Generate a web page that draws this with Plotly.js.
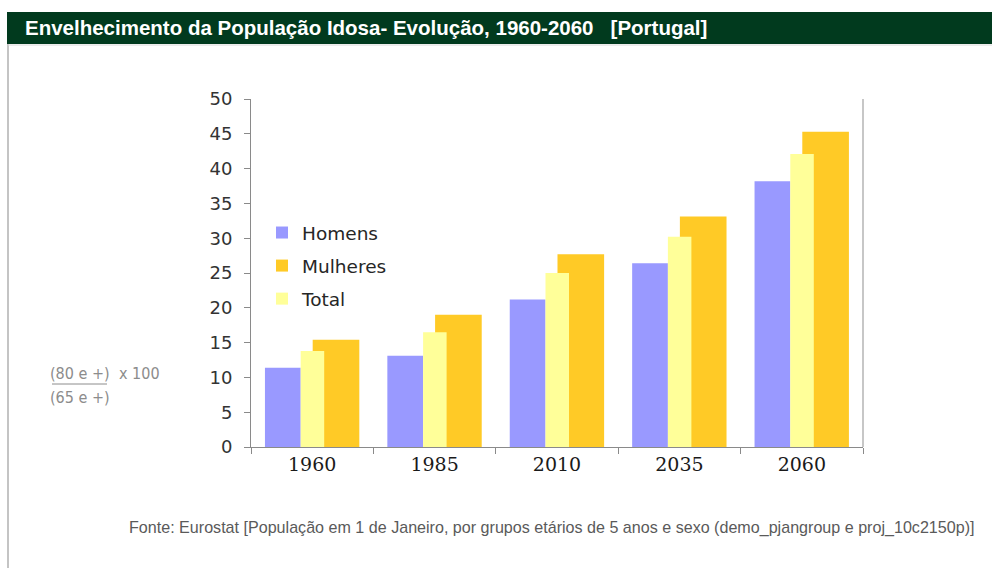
<!DOCTYPE html>
<html>
<head>
<meta charset="utf-8">
<script src="https://cdn.plot.ly/plotly-3.0.1.min.js"></script>
<style>
html,body{margin:0;padding:0;background:#fff;}
#chart{width:992px;height:568px;}
</style>
</head>
<body>
<div id="chart"></div>
<script>
// Data
var years = ['1960', '1985', '2010', '2035', '2060'];
var homens = [11.4, 13.1, 21.2, 26.4, 38.2];
var mulheres = [15.4, 19.0, 27.7, 33.1, 45.3];
var total = [13.8, 16.5, 25.0, 30.2, 42.1];
var yTicks = [0, 5, 10, 15, 20, 25, 30, 35, 40, 45, 50];

var titleText = 'Envelhecimento da População Idosa- Evolução, 1960-2060   [Portugal]';
var sourceText = 'Fonte: Eurostat [População em 1 de Janeiro, por grupos etários de 5 anos e sexo (demo_pjangroup e proj_10c2150p)]';

// plot area in pixels
var L = 251, R = 863, T = 99, B = 447;
function px(x){ return (x - L) / (R - L); }
function py(y){ return (B - y) / (B - T); }

var traces = [
  {type:'bar', name:'Homens', x:years, y:homens, marker:{color:'#9999FF'},
   offset:-0.386, width:0.292, legendgroup:'a', hoverinfo:'y'},
  {type:'bar', name:'Mulheres', x:years, y:mulheres, marker:{color:'#FFCA26'},
   offset:0.004, width:0.381, legendgroup:'b', hoverinfo:'y'},
  {type:'bar', name:'Total', x:years, y:total, marker:{color:'#FFFF99'},
   offset:-0.094, width:0.192, legendgroup:'c', hoverinfo:'y'}
];

var axisFont = {family:'DejaVu Sans, sans-serif', size:18, color:'#333333'};
var labelFont = {family:'Liberation Sans Narrow, DejaVu Sans Condensed, sans-serif', size:16, color:'#8c8c8c'};

var layout = {
  width:992, height:568,
  margin:{l:L, r:992-R, t:T, b:568-B, pad:0},
  paper_bgcolor:'#ffffff', plot_bgcolor:'#ffffff',
  barmode:'overlay',
  showlegend:true,
  legend:{x:px(262), y:py(214), xanchor:'left', yanchor:'top',
          font:{family:'DejaVu Sans, sans-serif', size:18.5, color:'#262626'},
          bgcolor:'rgba(0,0,0,0)', tracegroupgap:6, traceorder:'grouped'},
  xaxis:{type:'category', tickson:'boundaries', ticks:'outside', ticklen:6,
         tickcolor:'#8a8a8a', showline:true, linecolor:'#8a8a8a', linewidth:1,
         showgrid:false, zeroline:false, fixedrange:true,
         tickfont:{family:'DejaVu Serif, serif', size:19, color:'#1a1a1a'}},
  yaxis:{range:[0,50], tickvals:yTicks, ticks:'outside', ticklen:6,
         tickcolor:'#8a8a8a', showline:true, linecolor:'#8a8a8a', linewidth:1,
         showgrid:false, zeroline:false, fixedrange:true, ticklabelstandoff:8,
         tickfont:axisFont},
  shapes:[
    {type:'rect', xref:'paper', yref:'paper', x0:px(7), x1:px(992), y0:py(44), y1:py(12),
     fillcolor:'#013A1E', line:{width:0}, layer:'above'},
    {type:'line', xref:'paper', yref:'paper', x0:px(8), x1:px(8), y0:py(44), y1:py(568),
     line:{color:'#c4c4c4', width:2}},
    {type:'line', xref:'paper', yref:'paper', x0:px(8), x1:px(992), y0:py(45), y1:py(45),
     line:{color:'#d8d8d8', width:1}},
    {type:'line', xref:'paper', yref:'paper', x0:1, x1:1, y0:0, y1:1,
     line:{color:'#b4b4b4', width:1.5}},
    {type:'line', xref:'paper', yref:'paper', x0:px(52), x1:px(107), y0:py(384), y1:py(384),
     line:{color:'#8c8c8c', width:1}}
  ],
  annotations:[
    {xref:'paper', yref:'paper', x:px(23), y:py(28), xanchor:'left', yanchor:'middle',
     text:'<b>' + titleText + '</b>', showarrow:false,
     font:{family:'Liberation Sans, Arial, sans-serif', size:20.5, color:'#ffffff'}},
    {xref:'paper', yref:'paper', x:px(127), y:py(527), xanchor:'left', yanchor:'middle',
     text:sourceText, showarrow:false,
     font:{family:'Liberation Sans, Arial, sans-serif', size:16.1, color:'#5a5a5a'}},
    {xref:'paper', yref:'paper', x:px(79.5), y:py(373), xanchor:'center', yanchor:'middle',
     text:'(80 e +)', showarrow:false, font:labelFont},
    {xref:'paper', yref:'paper', x:px(117), y:py(373), xanchor:'left', yanchor:'middle',
     text:'x 100', showarrow:false, font:labelFont},
    {xref:'paper', yref:'paper', x:px(79.5), y:py(397), xanchor:'center', yanchor:'middle',
     text:'(65 e +)', showarrow:false, font:labelFont}
  ]
};

Plotly.newPlot('chart', traces, layout, {displayModeBar:false, staticPlot:true});
</script>
</body>
</html>
